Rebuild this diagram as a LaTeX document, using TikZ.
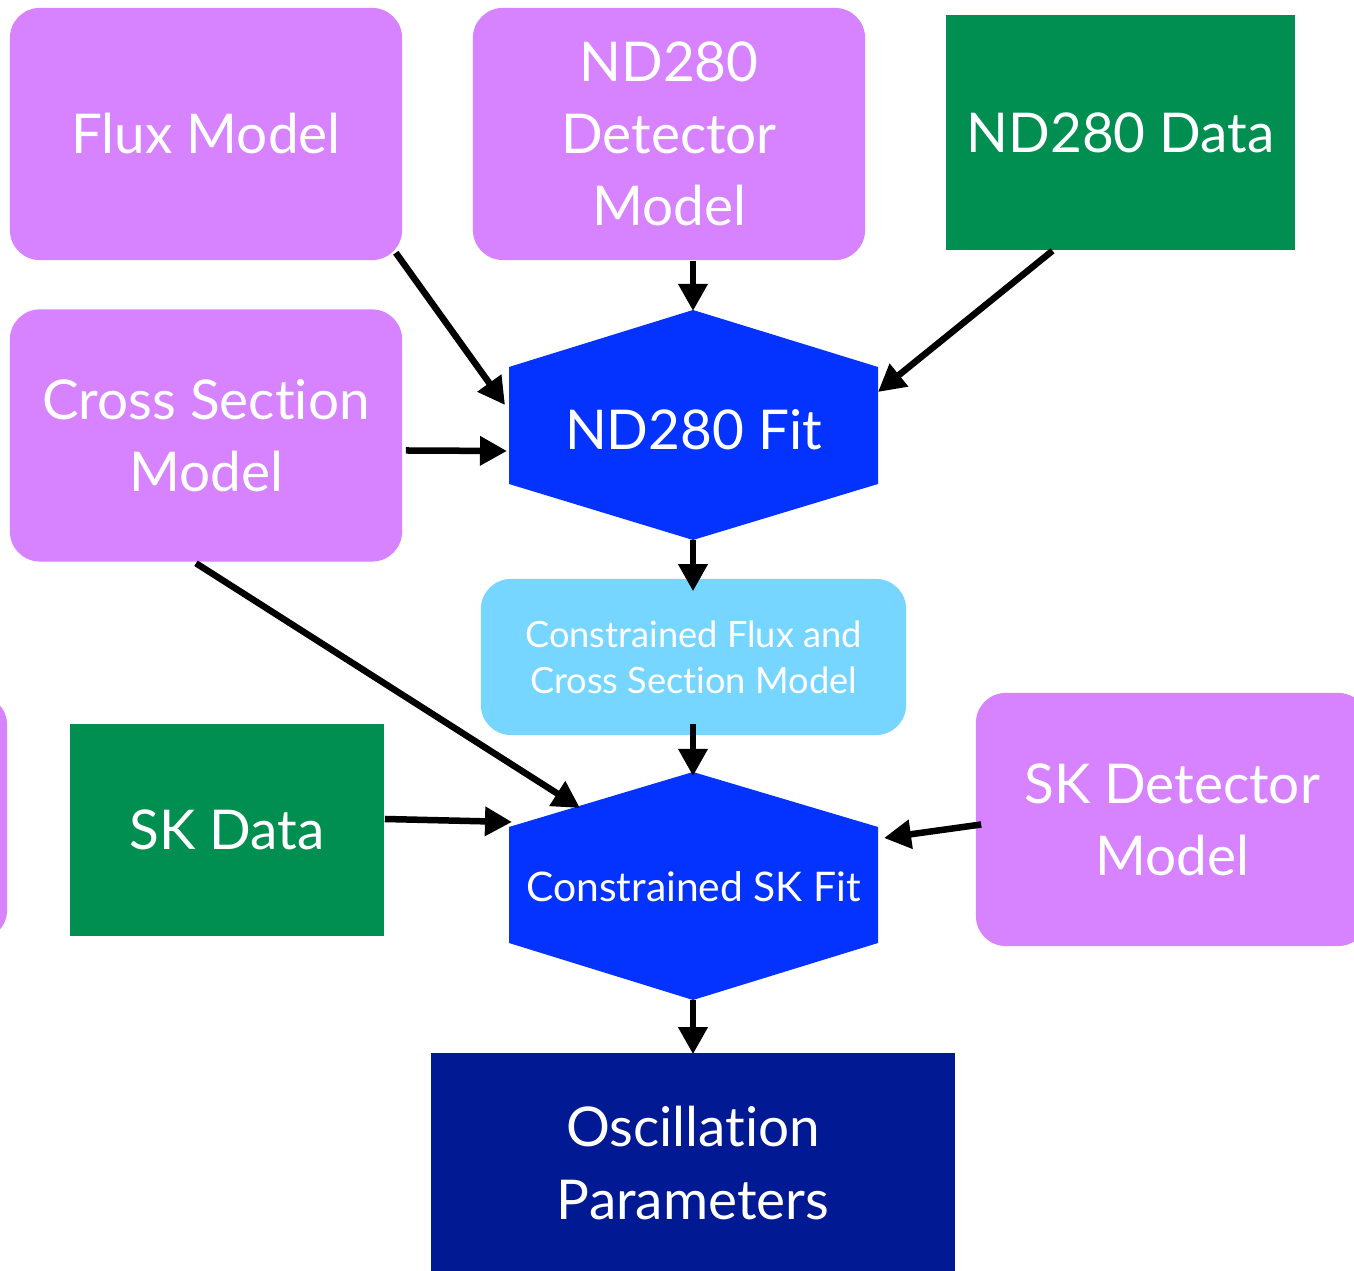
\documentclass[tikz,border=0pt]{standalone}
\usepackage{fontspec}
\setmainfont{Lato}[Ligatures = NoCommon]
\usetikzlibrary{arrows.meta}
\usetikzlibrary{calc}
\definecolor{lavender}{HTML}{D783FF}
\definecolor{clover}{HTML}{008F51}
\definecolor{blueberry}{HTML}{0433FF}
\definecolor{sky}{HTML}{76D6FF}
\definecolor{midnight}{HTML}{011993}

\begin{document}
\begin{tikzpicture}[x = 0.01cm, y = -0.01cm]
\tikzstyle{boxStyle} = [rounded corners = 0.3cm, text = white, align = center, inner sep = 0pt, font = \fontsize{15.6}{20.5}\selectfont]
\tikzstyle{modelStyle} = [boxStyle, fill = lavender, minimum width = 3.92cm, minimum height = 2.52cm]
\tikzstyle{dataStyle} = [boxStyle, rounded corners = 0pt, fill = clover]
\tikzstyle{fitStyle} = [fill = blueberry]
\tikzstyle{fitText} = [text = white, inner sep = 0pt]
\tikzstyle{arrowStyle} = [line width = 0.065cm, -{Triangle[length = 0.27cm, width = 0.28cm]}]
\useasboundingbox (0,0) rectangle (1354,1271);
% boxes
\node[modelStyle] (flux) at (206,134) {Flux Model};
\node[modelStyle] (nddet) at (669,134) {ND280\\Detector\\Model};
\node[dataStyle, minimum width = 3.49cm, minimum height = 2.35cm] (nddata) at (1120.5,132.5) {ND280 Data};
\node[modelStyle] (xsec) at (206,435.5) {Cross Section\\Model};
\node[boxStyle, fill = sky, minimum width = 4.25cm, minimum height = 1.56cm, font = \fontsize{10.3}{13}\selectfont] (cons) at (693.5,657) {Constrained Flux and\\Cross Section Model};
\node[modelStyle, minimum height = 2.45cm] (leftcut) at (-189,817.5) {};
\node[dataStyle, minimum width = 3.14cm, minimum height = 2.12cm] (skdata) at (227,830) {SK Data};
\node[modelStyle, minimum height = 2.53cm] (skdet) at (1172,819.5) {SK Detector\\Model};
\node[dataStyle, fill = midnight, minimum width = 5.24cm, minimum height = 2.2cm] (osc) at (693,1163) {Oscillation\\Parameters};
% hexagons
\coordinate (fitT) at (693,310);
\coordinate (fitUR) at (878,367);
\coordinate (fitLR) at (878,484);
\coordinate (fitB) at (693,540);
\coordinate (fitLL) at (509,484);
\coordinate (fitUL) at (509,367);
\fill[fitStyle] (fitT) -- (fitUR) -- (fitLR) -- (fitB) -- (fitLL) -- (fitUL) -- cycle;
\node[fitText, font = \fontsize{15.6}{20.5}\selectfont] (fit) at (693.5,430) {ND280 Fit};
\coordinate (skfitT) at (693,772);
\coordinate (skfitUR) at (878,827);
\coordinate (skfitLR) at (878,943);
\coordinate (skfitB) at (693,1000);
\coordinate (skfitLL) at (509,943);
\coordinate (skfitUL) at (509,827);
\fill[fitStyle] (skfitT) -- (skfitUR) -- (skfitLR) -- (skfitB) -- (skfitLL) -- (skfitUL) -- cycle;
\node[fitText, font = \fontsize{11.6}{14}\selectfont] (skfit) at (693.5,887) {Constrained SK Fit};
% arrows
\draw[arrowStyle] ($(flux.south east)+(-7,-8)$) -- ($(fitUL)+(-4,38)$);
\draw[arrowStyle] (nddet.south -| fitT) -- ($(fitT)+(0,1)$);
\draw[arrowStyle] ($(nddata.south)+(-68,0)$) -- ($(fitUR)+(0,25)$);
\draw[arrowStyle] ($(xsec.east)+(3,15)$) -- ($(fitUL)+(-2,84)$);
\draw[arrowStyle] (fitB) -- ($(cons.north -| fitB)+(0,13)$);
\draw[arrowStyle] ($(cons.south -| skfitT)+(0,-12)$) -- ($(skfitT)+(0,4)$);
\draw[arrowStyle] ($(xsec.south)+(-10,1)$) -- ($(skfitUL)+(71,-19)$);
\draw[arrowStyle] ($(skdata.east)+(0,-11)$) -- ($(skfitUL)+(3,-5)$);
\draw[arrowStyle] ($(skdet.west)+(6,5)$) -- ($(skfitUR)+(6,11)$);
\draw[arrowStyle] (skfitB) -- ($(osc.north -| skfitB)+(0,2)$);
\end{tikzpicture}
\end{document}
